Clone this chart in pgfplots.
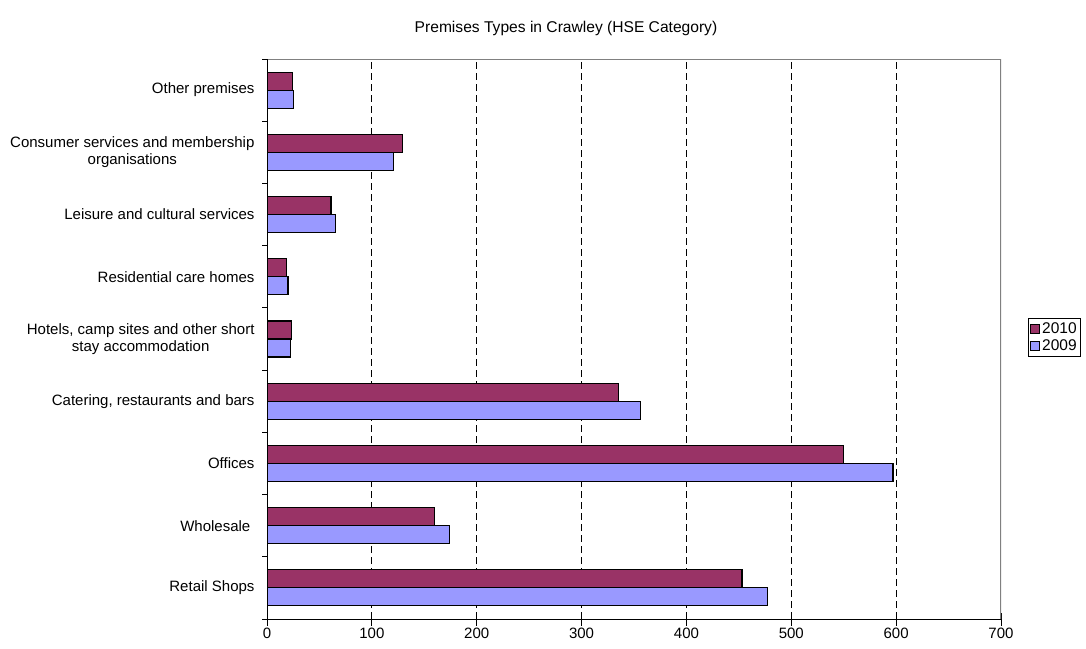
\documentclass[border=0pt]{standalone}
\usepackage{pgfplots}
\pgfplotsset{compat=1.18}
\usepackage{fontspec}
\setmainfont{Liberation Sans}
\definecolor{c2010}{HTML}{993366}
\definecolor{c2009}{HTML}{9999FF}
\begin{document}
\begin{tikzpicture}[x=1pt,y=1pt]
\path[use as bounding box] (0,0) rectangle (1086,648);
\node[font=\fontsize{15.6}{18}\selectfont] at (566,620) {Premises Types in Crawley (HSE Category)};
\begin{axis}[
  at={(267pt,29pt)}, anchor=south west,
  width=734pt, height=560pt, scale only axis,
  xmin=0, xmax=700, ymin=-0.5, ymax=8.5,
  xtick={0,100,...,700},
  /pgf/number format/assume math mode=true,
  xticklabel style={font=\fontsize{15}{17}\selectfont, yshift=-3pt},
  xtick align=center, ytick align=outside,
  tick style={black, line width=0.8pt}, major tick length=5pt,
  axis x line*=bottom, axis y line*=left,
  axis line style={black, line width=1pt},
  ytick={-0.5,0.5,...,8.5},
  yticklabels={},
  extra y ticks={0,1,...,8},
  extra y tick labels={Retail Shops,Wholesale\ ,Offices,{Catering, restaurants and bars},{Hotels, camp sites and other short\\stay accommodation},Residential care homes,Leisure and cultural services,Consumer services and membership\\organisations,Other premises},
  extra y tick style={major tick length=0pt, yticklabel style={align=center, font=\fontsize{15}{17}\selectfont, xshift=-9pt}},
  extra x ticks={0,100,...,700},
  extra x tick labels={},
  extra x tick style={major tick length=13pt},
  minor xtick={100,200,...,600},
  minor tick length=0pt,
  xminorgrids=true,
  minor grid style={black, line width=0.9pt, dash pattern=on 7pt off 4pt},
  xbar, bar width=18pt,
  legend style={at={(1.0368,0.537)}, anchor=north west, draw=black, line width=0.8pt,
    font=\fontsize{15.5}{17}\selectfont, inner sep=2pt, row sep=1pt,
    legend cell align=left},
  legend image code/.code={\draw[#1, line width=0.8pt] (0pt,-4.5pt) rectangle (9pt,4.5pt);},
]
\addplot[fill=c2010, draw=black, line width=1.1pt, bar shift=9pt] coordinates {
(453,0) (160,1) (550,2) (335,3) (23,4) (19,5) (61,6) (129,7) (24,8)};
\addlegendentry{2010}
\addplot[fill=c2009, draw=black, line width=1.1pt, bar shift=-9pt] coordinates {
(477,0) (174,1) (597,2) (356,3) (22,4) (20,5) (65,6) (121,7) (25,8)};
\addlegendentry{2009}
\draw[gray, line width=1.4pt] (rel axis cs:0,1) -- (rel axis cs:1,1) -- (rel axis cs:1,0);
\draw[black, line width=1pt] (rel axis cs:0,0) -- (rel axis cs:0,1);
\end{axis}
\end{tikzpicture}
\end{document}
